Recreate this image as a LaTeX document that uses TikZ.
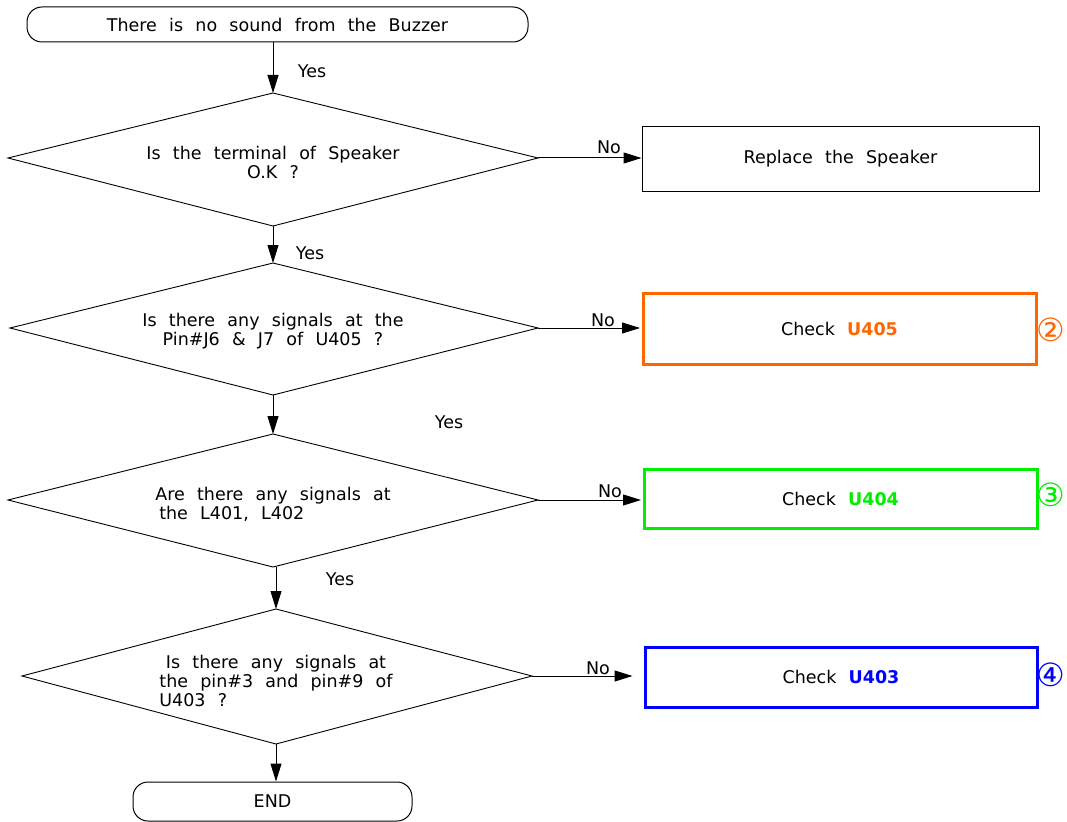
\documentclass[tikz,border=0pt]{standalone}
\usepackage{fontspec}
\usepackage{calc}
\setmainfont{DejaVu Sans}[WordSpace=2.2]
\newfontfamily\circfont{DejaVu Sans}
\usetikzlibrary{arrows.meta}
\definecolor{corange}{RGB}{255,102,0}
\definecolor{cgreen}{RGB}{0,238,0}
\definecolor{cblue}{RGB}{0,0,255}
\begin{document}
\begin{tikzpicture}[x=1pt,y=-1pt,
  font=\fontsize{17.5}{19}\selectfont,
  term/.style={draw, rounded corners=15pt, line width=1pt, inner sep=0pt},
  decline/.style={line width=0.9pt},
  dtext/.style={inner sep=0pt, align=center},
  act/.style={draw, line width=1pt, inner sep=0pt},
  cbox/.style={draw=#1, line width=3pt, inner sep=0pt},
  lab/.style={inner sep=0pt},
  circ/.style={inner sep=0pt, font=\circfont\fontsize{32}{32}\selectfont},
  arr/.style={line width=1pt, -{Triangle[length=18pt,width=11pt]}}
]
\useasboundingbox (0,0) rectangle (1067,821);
\fill[white] (0,0) rectangle (1067,821);

\node[term, minimum width=501pt, minimum height=35pt] (start) at (277.5,24.5) {There is no sound from the Buzzer};

% decision 1
\coordinate (d1n) at (273,93);
\coordinate (d1s) at (273,226);
\coordinate (d1w) at (8,158);
\coordinate (d1e) at (538,158);
\draw[decline] (d1n) -- (d1e) -- (d1s) -- (d1w) -- cycle;
\node[dtext] (d1) at (273,162) {Is the terminal of Speaker\\O.K ?};

% decision 2
\coordinate (d2n) at (273,263);
\coordinate (d2s) at (273,395);
\coordinate (d2w) at (10,328);
\coordinate (d2e) at (538,328);
\draw[decline] (d2n) -- (d2e) -- (d2s) -- (d2w) -- cycle;
\node[dtext] (d2) at (273,331) {Is there any signals at the\\Pin\#J6 \& J7 of U405 ?};

% decision 3
\coordinate (d3n) at (273,434);
\coordinate (d3s) at (273,567);
\coordinate (d3w) at (8,500);
\coordinate (d3e) at (538,500);
\draw[decline] (d3n) -- (d3e) -- (d3s) -- (d3w) -- cycle;
\node[dtext] (d3) at (273,504) {Are there any signals at\\\makebox[\widthof{Are there any signals at}][l]{\hspace{4pt}the L401, L402}};

% decision 4
\coordinate (d4n) at (276,609);
\coordinate (d4s) at (276,744);
\coordinate (d4w) at (22,676);
\coordinate (d4e) at (532,676);
\draw[decline] (d4n) -- (d4e) -- (d4s) -- (d4w) -- cycle;
\node[dtext] (d4) at (276,681) {Is there any signals at\\the pin\#3 and pin\#9 of\\\makebox[\widthof{the pin\#3 and pin\#9 of}][l]{U403 ?}};

\node[term, minimum width=279pt, minimum height=39pt] (end) at (272.5,801.5) {END};

\node[act, minimum width=397pt, minimum height=64pt] (r1) at (840.5,159) {Replace the Speaker};
\node[cbox=corange, minimum width=393pt, minimum height=71pt] (r2) at (839.5,328.5) {Check \textcolor{corange}{\bfseries U405}};
\node[cbox=cgreen, minimum width=393pt, minimum height=59pt] (r3) at (840.5,498.5) {Check \textcolor{cgreen}{\bfseries U404}};
\node[cbox=cblue, minimum width=392pt, minimum height=60pt] (r4) at (841,677) {Check \textcolor{cblue}{\bfseries U403}};

\node[circ, text=corange] (c2) at (1051,330) {②};
\node[circ, text=cgreen] (c3) at (1051,495) {③};
\node[circ, text=cblue] (c4) at (1051,675) {④};

% vertical connectors
\draw[arr] (d1n |- start.south) -- (d1n);
\draw[arr] (d1s) -- (d2n);
\draw[arr] (d2s) -- (d3n);
\draw[arr] (d4n |- d3s) -- (d4n);
\draw[arr] (d4s) -- (d4s |- end.north);

% horizontal connectors
\draw[arr] (d1e) -- (d1e -| r1.west);
\draw[arr] (d2e) -- ([xshift=-1.5pt]r2.west |- d2e);
\draw[arr] (d3e) -- ([xshift=-1.5pt]r3.west |- d3e);
\coordinate (n4) at ([xshift=-11pt]r4.west |- d4e);
\draw[arr] (d4e) -- (n4);

% labels
\node[lab] (y1) at (312,71) {Yes};
\node[lab] (y2) at (310,253) {Yes};
\node[lab] (y3) at (449,422) {Yes};
\node[lab] (y4) at (340,579) {Yes};
\node[lab] (n1l) at (609,147) {No};
\node[lab] (n2l) at (603,320) {No};
\node[lab] (n3l) at (610,491) {No};
\node[lab] (n4l) at (598,668) {No};
\end{tikzpicture}
\end{document}
